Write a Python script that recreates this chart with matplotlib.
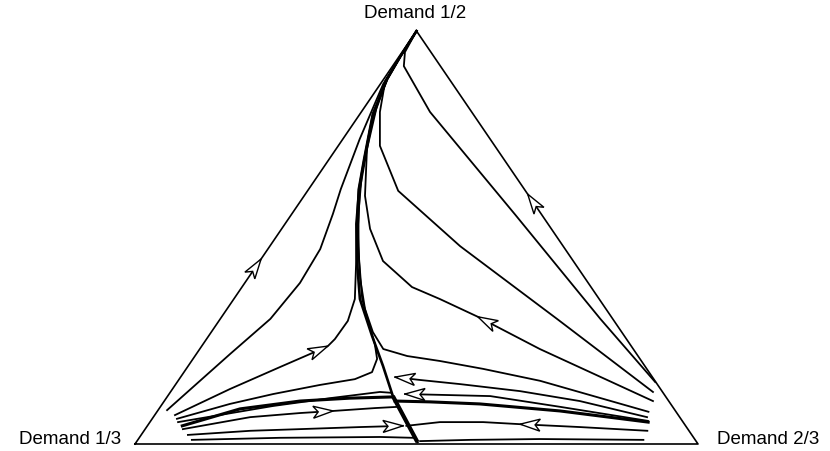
import numpy as np
import matplotlib.pyplot as plt
from matplotlib.patches import Polygon

# shares of the population: "half" = demand 1/2, "high" = demand 2/3
# (the rest demands 1/3). Points are listed in the direction of flow.
corner_half = [0.0, 1.0, 0.0]
corner_high = [0.0, 0.0, 1.0]

edge_left_half = [0.0, 0.448, 1.0]
edge_left_high = [0.0, 0.0, 0.0]
edge_right_half = [0.0, 0.605, 1.0]
edge_right_high = [1.0, 0.395, 0.0]

left1_half = [0.082, 0.218, 0.303, 0.390, 0.472, 0.557, 0.617, 0.738, 0.872, 0.93, 1.0]
left1_high = [0.016, 0.060, 0.089, 0.098, 0.093, 0.073, 0.057, 0.030, 0.005, 0.003, 0.0]

left2_half = [0.070, 0.133, 0.186, 0.223, 0.237, 0.254, 0.298, 0.351, 0.448, 0.533, 0.617, 0.690, 0.799, 0.884, 0.94, 1.0]
left2_high = [0.036, 0.102, 0.164, 0.208, 0.224, 0.228, 0.229, 0.215, 0.169, 0.126, 0.089, 0.062, 0.023, 0.006, 0.002, 0.0]

left3_half = [0.061, 0.097, 0.121, 0.143, 0.157, 0.174, 0.206, 0.242, 0.298, 0.351, 0.448, 0.533, 0.617, 0.690, 0.799, 0.884, 0.94, 1.0]
left3_high = [0.044, 0.120, 0.185, 0.257, 0.312, 0.334, 0.327, 0.305, 0.265, 0.228, 0.174, 0.130, 0.091, 0.064, 0.024, 0.006, 0.002, 0.0]

left4_half = [0.053, 0.092, 0.111, 0.126, 0.124]
left4_high = [0.050, 0.199, 0.291, 0.372, 0.393]
left5_half = [0.044, 0.085, 0.104, 0.111, 0.114]
left5_high = [0.062, 0.144, 0.241, 0.326, 0.401]
left6_half = [0.036, 0.065, 0.075, 0.080, 0.087, 0.090]
left6_high = [0.067, 0.172, 0.256, 0.312, 0.383, 0.422]
left7_half = [0.022, 0.032, 0.036, 0.041, 0.044]
left7_high = [0.083, 0.189, 0.275, 0.379, 0.454]
left8_half = [0.010, 0.015, 0.017, 0.015]
left8_high = [0.096, 0.250, 0.427, 0.487]

center_half = [0.005, 0.061, 0.116, 0.189, 0.262, 0.351, 0.448, 0.533, 0.617, 0.690, 0.799, 0.884, 0.94, 1.0]
center_high = [0.499, 0.449, 0.400, 0.346, 0.290, 0.224, 0.170, 0.128, 0.089, 0.062, 0.023, 0.006, 0.002, 0.0]

right1_half = [0.150, 0.303, 0.555, 0.804, 0.915, 0.949, 1.0]
right1_high = [0.849, 0.675, 0.398, 0.122, 0.020, 0.005, 0.0]
right2_half = [0.126, 0.303, 0.479, 0.613, 0.722, 0.804, 0.879, 0.94, 1.0]
right2_high = [0.857, 0.598, 0.338, 0.161, 0.074, 0.033, 0.005, 0.002, 0.0]
right3_half = [0.104, 0.230, 0.308, 0.351, 0.380, 0.443, 0.521, 0.601, 0.714, 0.811, 0.884, 0.94, 1.0]
right3_high = [0.868, 0.604, 0.455, 0.366, 0.302, 0.219, 0.157, 0.108, 0.055, 0.023, 0.006, 0.002, 0.0]
right4_half = [0.078, 0.153, 0.182, 0.201, 0.213, 0.230, 0.271, 0.327, 0.400, 0.484, 0.569, 0.654, 0.763, 0.864, 0.94, 1.0]
right4_high = [0.873, 0.643, 0.527, 0.441, 0.377, 0.326, 0.287, 0.245, 0.200, 0.154, 0.113, 0.076, 0.036, 0.008, 0.002, 0.0]
right5_half = [0.065, 0.104, 0.128, 0.145, 0.155, 0.162]
right5_high = [0.877, 0.738, 0.620, 0.505, 0.429, 0.381]
right6_half = [0.056, 0.090, 0.116, 0.119, 0.121]
right6_high = [0.883, 0.710, 0.573, 0.482, 0.419]
right6b_half = [0.053, 0.080, 0.097, 0.102, 0.104]
right6b_high = [0.885, 0.715, 0.564, 0.473, 0.410]
right7_half = [0.032, 0.041, 0.048, 0.053, 0.053, 0.044]
right7_high = [0.894, 0.770, 0.660, 0.592, 0.515, 0.460]
right8_half = [0.010, 0.012, 0.010, 0.007]
right8_high = [0.898, 0.713, 0.590, 0.503]

corner_labels = ["Demand 1/3", "Demand 1/2", "Demand 2/3"]


def to_xy(half, high):
    half = np.asarray(half, dtype=float)
    high = np.asarray(high, dtype=float)
    return high + half / 2, half


def draw_dart(ax, half, high, idx, length=20, width=12, notch=5):
    x, y = to_xy(half, high)
    pts = ax.transData.transform(np.column_stack([x, y]))
    tip = pts[idx]
    d = pts[idx] - pts[idx - 1]
    d = d / np.hypot(d[0], d[1])
    n = np.array([-d[1], d[0]])
    back = tip - d * length
    corners = np.array([tip, back + n * width / 2, tip - d * (length - notch), back - n * width / 2])
    ax.add_patch(Polygon(ax.transData.inverted().transform(corners), closed=True,
                         fc="white", ec="black", lw=1.0, zorder=3))


fig = plt.figure(figsize=(8.3, 4.52), dpi=100)
ax = fig.add_axes([135 / 830, 7 / 452, 563 / 830, 413 / 452])
ax.set_xlim(0, 1)
ax.set_ylim(0, 1)
ax.axis("off")

cx, cy = to_xy(corner_half + corner_half[:1], corner_high + corner_high[:1])
ax.plot(cx, cy, color="black", lw=1.2, clip_on=False)

paths = [
    (left1_half, left1_high, 1.3), (left2_half, left2_high, 1.3), (left3_half, left3_high, 1.3),
    (left4_half, left4_high, 1.3), (left5_half, left5_high, 2.2), (left6_half, left6_high, 1.3),
    (left7_half, left7_high, 1.3), (left8_half, left8_high, 1.3),
    (center_half, center_high, 1.9),
    (right1_half, right1_high, 1.3), (right2_half, right2_high, 1.3), (right3_half, right3_high, 1.3),
    (right4_half, right4_high, 1.3), (right5_half, right5_high, 1.3), (right6_half, right6_high, 1.3),
    (right6b_half, right6b_high, 2.2), (right7_half, right7_high, 1.3), (right8_half, right8_high, 1.3),
]
for half, high, lw in paths:
    x, y = to_xy(half, high)
    ax.plot(x, y, color="black", lw=lw, solid_joinstyle="round", clip_on=False)

# heavier lower part of the central line
x, y = to_xy(center_half[:3], center_high[:3])
ax.plot(x, y, color="black", lw=3.0, solid_capstyle="butt", clip_on=False)

darts = [
    (edge_left_half, edge_left_high, 1),
    (edge_right_half, edge_right_high, 1),
    (left2_half, left2_high, 4),
    (left6_half, left6_high, 3),
    (left7_half, left7_high, 4),
    (right3_half, right3_high, 2),
    (right5_half, right5_high, 5),
    (right6_half, right6_high, 4),
    (right7_half, right7_high, 2),
]
for half, high, idx in darts:
    draw_dart(ax, half, high, idx)

font = dict(family=["Liberation Sans", "DejaVu Sans"], fontsize=13.5, color="black")
fig.text(415 / 830, 1 - 13 / 452, corner_labels[1], ha="center", va="center", **font)
fig.text(121 / 830, 1 - 440 / 452, corner_labels[0], ha="right", va="center", **font)
fig.text(717 / 830, 1 - 440 / 452, corner_labels[2], ha="left", va="center", **font)

fig.savefig("out.png", dpi=100)
